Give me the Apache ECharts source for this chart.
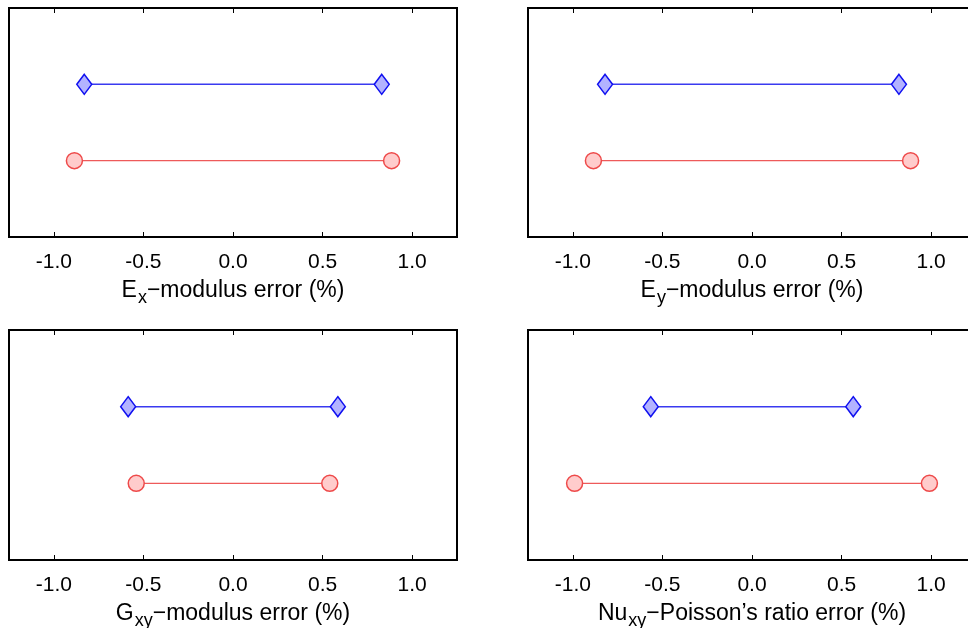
<!DOCTYPE html>
<html><head><meta charset="utf-8">
<script src="https://cdn.jsdelivr.net/npm/echarts@6/dist/echarts.min.js"></script>
<style>html,body{margin:0;padding:0;background:#fff}#c{width:968px;height:628px}</style>
</head><body><div id="c"></div>
<script>
// ---- data ----
const xTicks = [-1.0, -0.5, 0.0, 0.5, 1.0];
const xRange = [-1.25, 1.25];
const yRange = [0, 3];
const blueLevel = 2;
const redLevel = 1;
const panelMain = ['E', 'E', 'G', 'Nu'];
const panelSub = ['x', 'y', 'xy', 'xy'];
const panelRest = ['\u2212modulus error (%)', '\u2212modulus error (%)', '\u2212modulus error (%)', '\u2212Poisson\u2019s ratio error (%)'];
const blueLow = [-0.83, -0.82, -0.585, -0.565];
const blueHigh = [0.83, 0.82, 0.585, 0.565];
const redLow = [-0.885, -0.885, -0.54, -0.99];
const redHigh = [0.885, 0.885, 0.54, 0.99];

// ---- layout ----
const FONT = 'Liberation Sans, Arial, Helvetica, sans-serif';
const gridPos = [
  {left: 9, top: 8, width: 448, height: 229},
  {left: 528, top: 8, width: 448, height: 229},
  {left: 9, top: 330, width: 448, height: 230},
  {left: 528, top: 330, width: 448, height: 230}
];

const grids = [], xAxes = [], yAxes = [], series = [];
gridPos.forEach((g, i) => {
  grids.push(Object.assign({show: true, borderColor: '#000', borderWidth: 2, backgroundColor: '#fff', containLabel: false, outerBoundsMode: 'none'}, g));
  xAxes.push({
    type: 'value', gridIndex: i, position: 'bottom', min: xRange[0], max: xRange[1],
    axisLine: {show: false}, splitLine: {show: false},
    axisTick: {show: true, inside: true, length: 5, customValues: xTicks, lineStyle: {color: '#000', width: 1}},
    axisLabel: {show: true, customValues: xTicks, margin: 15, fontSize: 21, fontFamily: FONT, color: '#000', formatter: v => v.toFixed(1)},
    name: '{m|' + panelMain[i] + '}{s|' + panelSub[i] + '}{m|' + panelRest[i] + '}',
    nameLocation: 'middle', nameGap: 37,
    nameTextStyle: {
      fontFamily: FONT, color: '#000',
      rich: {
        m: {fontSize: 23, fontFamily: FONT, color: '#000'},
        s: {fontSize: 18, fontFamily: FONT, color: '#000', padding: [15, 0, 0, 1]}
      }
    }
  });
  xAxes.push({
    type: 'value', gridIndex: i, position: 'top', min: xRange[0], max: xRange[1],
    axisLine: {show: false}, splitLine: {show: false},
    axisTick: {show: true, inside: true, length: 5, customValues: xTicks, lineStyle: {color: '#000', width: 1}},
    axisLabel: {show: false}
  });
  yAxes.push({type: 'value', gridIndex: i, min: yRange[0], max: yRange[1], show: false});
  series.push({
    type: 'line', xAxisIndex: 2 * i, yAxisIndex: i,
    data: [[blueLow[i], blueLevel], [blueHigh[i], blueLevel]],
    symbol: 'diamond', symbolSize: [15, 20], showSymbol: true,
    itemStyle: {color: '#b3b3ff', borderColor: '#1010f0', borderWidth: 1.5},
    lineStyle: {color: '#3a3af0', width: 1.5}, animation: false
  });
  series.push({
    type: 'line', xAxisIndex: 2 * i, yAxisIndex: i,
    data: [[redLow[i], redLevel], [redHigh[i], redLevel]],
    symbol: 'circle', symbolSize: 16, showSymbol: true,
    itemStyle: {color: '#ffcccc', borderColor: '#ee4a4a', borderWidth: 1.5},
    lineStyle: {color: '#ee5a5a', width: 1.2}, animation: false
  });
});

const chart = echarts.init(document.getElementById('c'), null, {renderer: 'canvas'});
chart.setOption({animation: false, backgroundColor: '#fff', grid: grids, xAxis: xAxes, yAxis: yAxes, series: series});
</script>
</body></html>
